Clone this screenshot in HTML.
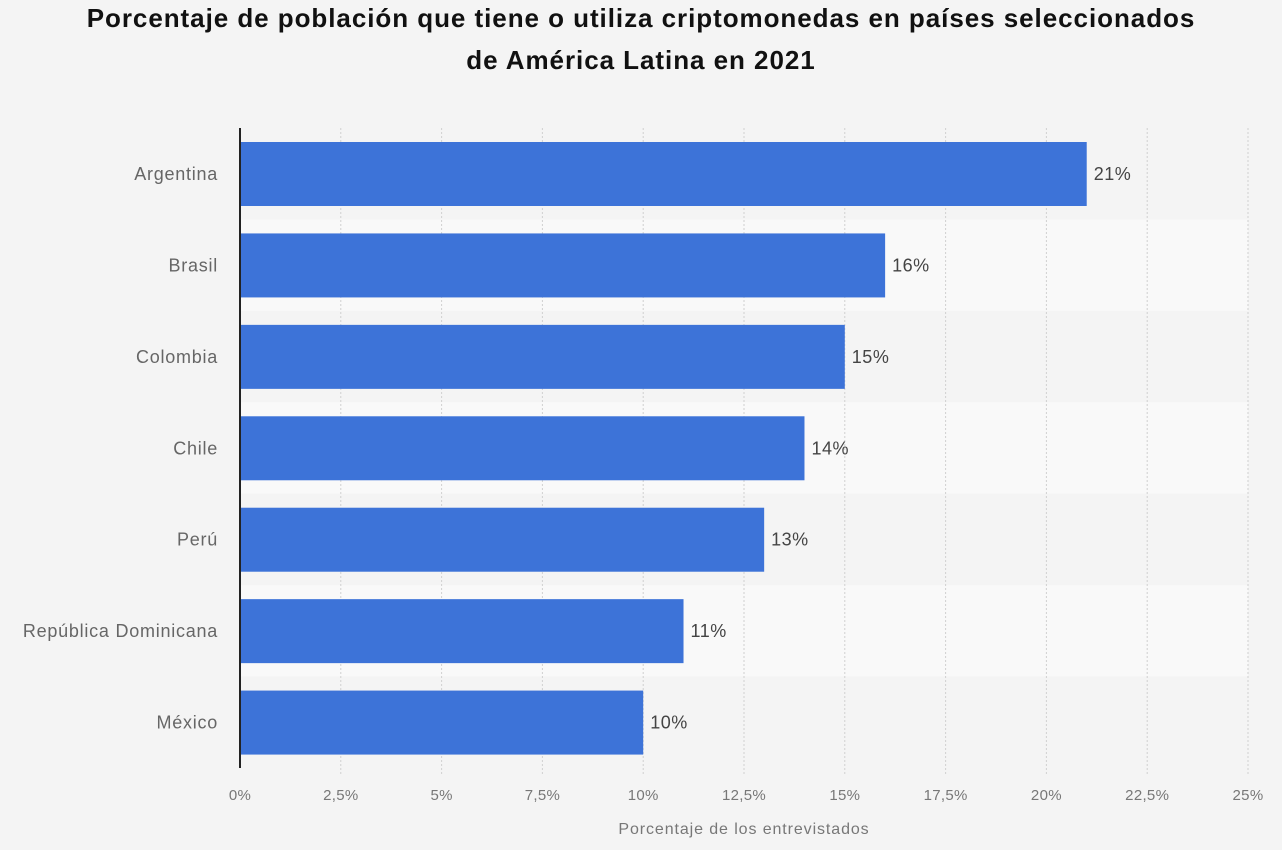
<!DOCTYPE html>
<html><head><meta charset="utf-8"><style>
body{margin:0;background:#f4f4f4;font-family:"Liberation Sans",sans-serif;}
#title{position:absolute;left:0;top:-3px;width:1282px;text-align:center;font-weight:bold;font-size:26px;letter-spacing:0.95px;line-height:42px;color:#111;}
</style></head><body>
<div id="title">Porcentaje de población que tiene o utiliza criptomonedas en países seleccionados<br>de América Latina en 2021</div>
<svg id="chart" width="1282" height="850" style="position:absolute;left:0;top:0"></svg>
<script>
const categories=["Argentina","Brasil","Colombia","Chile","Perú","República Dominicana","México"];
const values=[21,16,15,14,13,11,10];
const tickValues=[0,2.5,5,7.5,10,12.5,15,17.5,20,22.5,25];
const tickLabels=["0%","2,5%","5%","7,5%","10%","12,5%","15%","17,5%","20%","22,5%","25%"];
const svg=document.getElementById('chart');
const NS='http://www.w3.org/2000/svg';
const x0=240,x1=1248,y0=128,y1=768,xmax=25;
const bandH=(y1-y0)/categories.length;
const xs=v=>x0+(v/xmax)*(x1-x0);
const ys=i=>y0+i*bandH;
function mk(t,a){const e=document.createElementNS(NS,t);for(const k in a)e.setAttribute(k,a[k]);svg.appendChild(e);return e;}
categories.forEach((c,i)=>{
 const b=mk('rect',{x:x0,y:ys(i),width:x1-x0,height:bandH,fill:i%2?'#f9f9f9':'#f4f4f4'});
 
 
});
tickValues.forEach((v,i)=>{
 if(i>0){const g=mk('line',{x1:xs(v),x2:xs(v),y1:y0,y2:y1+8,stroke:'#d0d0d0','stroke-dasharray':'2,2'});
 
 }
 const t=mk('text',{x:xs(v),y:800,'text-anchor':'middle','font-size':15,'letter-spacing':0.3,fill:'#777'});
 t.textContent=tickLabels[i];
 
 
});
categories.forEach((c,i)=>{
 const r=mk('rect',{x:x0,y:ys(i)+14,width:xs(values[i])-x0,height:64,fill:'#3d73d8'});
 
 
 const l=mk('text',{x:218,y:ys(i)+52,'text-anchor':'end','font-size':18,'letter-spacing':0.75,fill:'#666'});
 l.textContent=c;
 
 
 const v=mk('text',{x:xs(values[i])+7,y:ys(i)+52,'font-size':18,'letter-spacing':0.5,fill:'#444'});
 v.textContent=values[i]+'%';
 
 
});
const ax=mk('line',{x1:x0,x2:x0,y1:y0,y2:y1,stroke:'#222','stroke-width':2});


const at=mk('text',{x:744,y:834,'text-anchor':'middle','font-size':16,'letter-spacing':0.9,fill:'#777'});
at.textContent='Porcentaje de los entrevistados';


</script>
</body></html>
